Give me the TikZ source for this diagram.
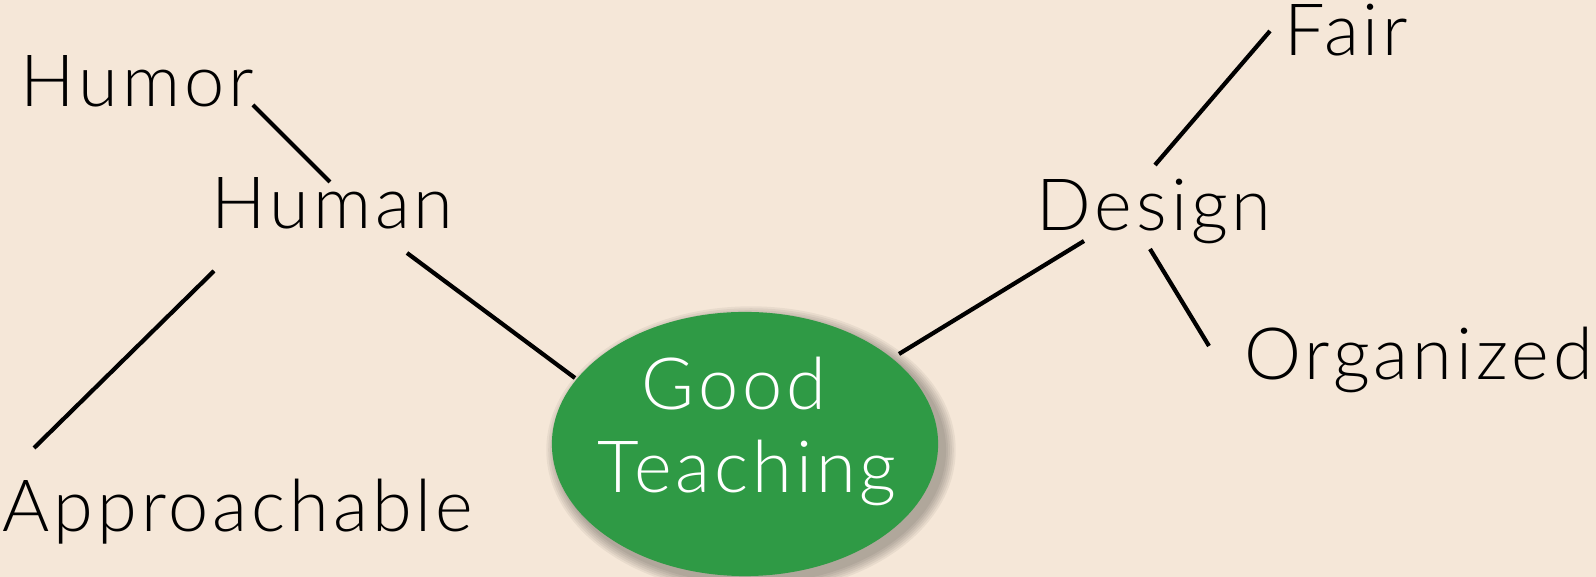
\documentclass[tikz,border=0pt]{standalone}
\usepackage{fontspec}
\setmainfont{Lato}[UprightFont=* Light,LetterSpace=5.5]
\usetikzlibrary{shapes.geometric}
\definecolor{bgc}{HTML}{F5E7D8}
\definecolor{gtc}{HTML}{2F9A45}
\begin{document}
\begin{tikzpicture}[x=0.01cm,y=-0.01cm,
  lbl/.style={anchor=base west,inner sep=0pt,font=\fontsize{20.5}{24}\selectfont,text=black},
  wlbl/.style={anchor=base,inner sep=0pt,font=\fontsize{20.5}{24}\selectfont,text=white},
  conn/.style={draw=black,line width=1.2pt},
  oval/.style={ellipse,fill=gtc,inner sep=0pt,minimum width=3.86cm,minimum height=2.64cm},
  shad/.style={ellipse,fill=black,fill opacity=0.05,inner sep=0pt}]
\fill[bgc] (0,0) rectangle (1596,577);
\useasboundingbox (0,0) rectangle (1596,577);

\foreach \k in {1,...,6}{
  \node[shad,minimum width=3.86cm+\k*1.1pt,minimum height=2.64cm+\k*1.1pt] (sh\k) at (751,450) {};
}
\node[oval] (good) at (745,444) {};
\node[wlbl] (goodA) at (734,410) {Good};
\node[wlbl] (goodB) at (747,493) {Teaching};

\node[lbl] (humor) at (20,107) {Humor};
\node[lbl] (human) at (211,229) {Human};
\node[lbl] (appr) at (2,532) {Approachable};
\node[lbl] (design) at (1036,231) {Design};
\node[lbl] (fair) at (1284,56) {Fair};
\node[lbl] (org) at (1244,380) {Organized};

\coordinate (a1) at (253,105); \coordinate (a2) at (330,182);
\coordinate (b1) at (214,271); \coordinate (b2) at (34,448);
\coordinate (c1) at (407,253); \coordinate (c2) at (575,378);
\coordinate (d1) at (899,354); \coordinate (d2) at (1084,241);
\coordinate (e1) at (1155,165); \coordinate (e2) at (1270,31);
\coordinate (f1) at (1150,249); \coordinate (f2) at (1209,346);

\draw[conn] (a1) -- (a2);
\draw[conn] (b1) -- (b2);
\draw[conn] (c1) -- (c2);
\draw[conn] (d1) -- (d2);
\draw[conn] (e1) -- (e2);
\draw[conn] (f1) -- (f2);
\end{tikzpicture}
\end{document}
